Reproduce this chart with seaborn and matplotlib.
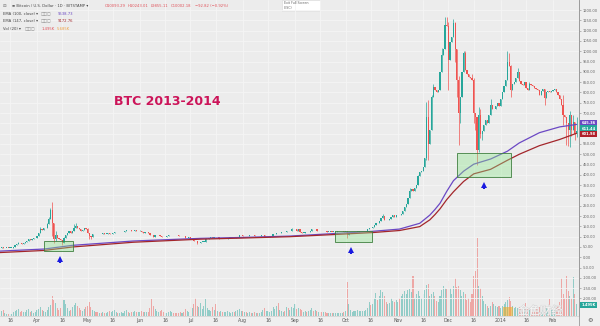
import numpy as np
import pandas as pd
import matplotlib
matplotlib.use("Agg")
import matplotlib.pyplot as plt
import matplotlib.patheffects as pe
from matplotlib.patches import Rectangle
from matplotlib.lines import Line2D
import seaborn as sns

# ---------------- data ----------------
start_date = "2013-03-10"
first_open = 45.0

close_2013_03 = [46.0, 48.4, 44.3, 46.9, 47.2, 46.9, 47.0, 47.4, 51.6, 59.1, 64.3, 70.9, 69.9, 64.3, 71.5, 73.6, 78.5, 88.9, 86.2, 90.5, 92.2, 93.0]
close_2013_04 = [104, 117, 135, 132, 142, 142, 162, 187, 230, 165, 90, 110, 92, 90, 82, 68, 93, 110, 119, 126, 119, 127, 143, 154, 141, 137, 128, 134, 144, 139]
close_2013_05 = [116, 105, 97, 112, 115, 112, 111, 113, 112, 117, 115, 115, 117, 111, 114, 118, 123, 123, 122, 122, 122, 123, 126, 132, 131, 133, 128, 129, 132, 127, 128]
close_2013_06 = [129, 122, 120, 121, 121, 119, 110, 107, 100, 106, 108, 108, 103, 100, 99, 99, 101, 107, 108, 110, 109, 108, 107, 103, 102, 103, 101, 94, 94, 97]
close_2013_07 = [88, 89, 78, 77, 68, 68, 76, 76, 76, 88, 88, 93, 97, 94, 98, 97, 97, 90, 90, 88, 91, 91, 95, 95, 96, 96, 95, 97, 98, 106, 106]
close_2013_08 = [104, 105, 104, 105, 107, 106, 106, 103, 105, 104, 105, 106, 109, 98, 98, 100, 101, 103, 113, 113, 118, 117, 119, 122, 122, 121, 129, 128, 128, 136, 138]
close_2013_09 = [138, 128, 135, 125, 120, 120, 124, 122, 124, 126, 137, 135, 138, 127, 129, 128, 126, 128, 126, 124, 124, 125, 124, 125, 125, 127, 127, 128, 129, 125]
close_2013_10 = [128, 106, 120, 122, 122, 123, 124, 124, 126, 126, 127, 128, 130, 135, 144, 141, 145, 155, 167, 166, 178, 193, 200, 180, 179, 183, 186, 195, 203, 197, 204]
close_2013_11 = [206, 203, 211, 225, 245, 258, 290, 320, 330, 320, 334, 353, 395, 416, 420, 438, 480, 680, 550, 620, 780, 825, 810, 800, 810, 900, 980, 1010, 1130, 1125]
close_2013_12 = [958, 1045, 1070, 1135, 1010, 860, 700, 780, 900, 990, 910, 890, 875, 870, 860, 700, 680, 520, 690, 600, 615, 640, 665, 650, 690, 740, 720, 720, 735, 750, 735]
close_2014_01 = [770, 800, 830, 860, 950, 930, 810, 840, 850, 870, 900, 855, 840, 835, 850, 820, 810, 840, 835, 830, 820, 815, 810, 790, 805, 815, 775, 800, 805, 800, 805]
close_2014_02 = [810, 815, 800, 790, 770, 740, 690, 680, 650, 620, 690, 620, 655, 600, 611.44]

vol_2013_03 = [3, 5, 6, 3, 2, 2, 2, 2, 4, 5, 6, 7, 4, 5, 4, 4, 6, 7, 4, 5, 3, 4]
vol_2013_04 = [6, 7, 9, 6, 5, 4, 6, 9, 11, 20, 16, 13, 8, 6, 8, 19, 16, 12, 8, 5, 6, 9, 11, 13, 10, 8, 6, 5, 7, 9]
vol_2013_05 = [10, 14, 9, 6, 5, 4, 4, 3, 3, 4, 3, 3, 4, 5, 4, 5, 6, 4, 3, 3, 4, 3, 5, 6, 4, 3, 4, 4, 5, 4, 4]
vol_2013_06 = [4, 5, 4, 4, 4, 4, 8, 17, 10, 7, 5, 4, 5, 6, 4, 3, 3, 4, 5, 4, 3, 3, 3, 3, 4, 3, 4, 7, 5, 4]
vol_2013_07 = [9, 8, 12, 18, 10, 9, 13, 7, 10, 17, 8, 6, 5, 9, 6, 12, 5, 4, 5, 4, 4, 4, 5, 4, 3, 4, 4, 5, 6, 7, 5]
vol_2013_08 = [5, 4, 4, 3, 4, 3, 3, 4, 3, 3, 3, 4, 6, 8, 5, 5, 4, 5, 9, 7, 10, 13, 6, 5, 4, 5, 9, 8, 6, 9, 8]
vol_2013_09 = [12, 7, 8, 7, 6, 4, 5, 4, 5, 6, 8, 5, 6, 5, 4, 4, 4, 4, 4, 3, 3, 3, 3, 3, 3, 3, 3, 3, 3, 4]
vol_2013_10 = [5, 34, 12, 6, 4, 5, 5, 6, 5, 5, 5, 5, 6, 8, 14, 11, 12, 18, 23, 16, 20, 26, 24, 20, 14, 12, 13, 18, 15, 14, 16]
vol_2013_11 = [14, 18, 20, 22, 25, 22, 26, 27, 24, 40, 18, 22, 25, 20, 18, 22, 26, 31, 32, 20, 22, 24, 20, 15, 14, 20, 26, 30, 28, 27]
vol_2013_12 = [35, 28, 22, 30, 38, 29, 30, 26, 20, 24, 22, 16, 18, 14, 22, 40, 45, 78, 30, 28, 20, 15, 12, 10, 8, 10, 14, 12, 10, 9, 10]
vol_2014_01 = [8, 10, 12, 14, 16, 19, 15, 10, 8, 9, 8, 9, 7, 6, 8, 13, 8, 6, 6, 5, 6, 7, 8, 9, 7, 6, 10, 8, 7, 17, 6]
vol_2014_02 = [7, 6, 8, 10, 14, 38, 22, 18, 40, 25, 20, 18, 39, 22, 12]

wick_high = {
    "2013-03-19": 62, "2013-03-21": 74, "2013-04-03": 147, "2013-04-07": 165,
    "2013-04-08": 195, "2013-04-09": 240, "2013-04-10": 266, "2013-04-11": 165,
    "2013-04-12": 130, "2013-04-17": 100, "2013-04-23": 160, "2013-04-24": 166,
    "2013-05-01": 140, "2013-06-01": 132, "2013-07-10": 92, "2013-08-30": 140,
    "2013-10-02": 129, "2013-10-23": 210, "2013-11-08": 335, "2013-11-13": 400,
    "2013-11-18": 755, "2013-11-19": 764, "2013-11-21": 790, "2013-11-22": 840,
    "2013-11-27": 1015, "2013-11-29": 1165, "2013-11-30": 1165, "2013-12-01": 1140,
    "2013-12-04": 1156, "2013-12-05": 1140, "2013-12-07": 880, "2013-12-10": 1000,
    "2013-12-11": 1000, "2013-12-15": 890, "2013-12-16": 870, "2013-12-19": 730,
    "2013-12-20": 720, "2013-12-26": 770, "2014-01-05": 1000, "2014-01-06": 990,
    "2014-01-07": 935, "2014-01-11": 920, "2014-01-18": 850, "2014-02-07": 790,
    "2014-02-11": 710, "2014-02-13": 690, "2014-02-15": 680,
}
wick_low = {
    "2013-04-10": 105, "2013-04-11": 70, "2013-04-12": 80, "2013-04-16": 60,
    "2013-05-02": 90, "2013-05-03": 88, "2013-07-05": 65, "2013-10-02": 95,
    "2013-11-18": 470, "2013-11-19": 470, "2013-12-01": 812, "2013-12-05": 950,
    "2013-12-06": 780, "2013-12-07": 545, "2013-12-08": 650, "2013-12-16": 650,
    "2013-12-17": 620, "2013-12-18": 450, "2013-12-19": 510, "2013-12-20": 580,
    "2013-12-21": 570, "2014-01-07": 780, "2014-01-27": 740, "2014-02-07": 640,
    "2014-02-09": 545, "2014-02-10": 540, "2014-02-11": 535, "2014-02-12": 590,
    "2014-02-14": 570, "2014-02-15": 585,
}

ema_dates = ["2013-03-10", "2013-04-05", "2013-04-22", "2013-05-28", "2013-07-07",
             "2013-07-30", "2013-08-29", "2013-09-28", "2013-10-17", "2013-11-02",
             "2013-11-14", "2013-11-20", "2013-11-23", "2013-11-26", "2013-11-30",
             "2013-12-04", "2013-12-10", "2013-12-16", "2013-12-26", "2014-01-05",
             "2014-01-12", "2014-01-24", "2014-02-05", "2014-02-15"]
ema100 = [30, 40, 58, 79, 92, 96, 103, 117, 126, 137, 165, 205, 232, 262, 320,
          372, 418, 452, 477, 515, 555, 605, 633, 645]
ema147 = [23, 33, 50, 73, 88, 93, 100, 112, 120, 130, 149, 182, 207, 235, 280,
          318, 368, 405, 427, 471, 500, 542, 572, 602]

tick_dates = ["2013-03-16", "2013-04-01", "2013-04-16", "2013-05-01", "2013-05-16",
              "2013-06-01", "2013-06-16", "2013-07-01", "2013-07-16", "2013-08-01",
              "2013-08-16", "2013-09-01", "2013-09-16", "2013-10-01", "2013-10-16",
              "2013-11-01", "2013-11-16", "2013-12-01", "2013-12-16", "2014-01-01",
              "2014-01-16", "2014-02-01"]
tick_labels = ["16", "Apr", "16", "May", "16", "Jun", "16", "Jul", "16", "Aug", "16",
               "Sep", "16", "Oct", "16", "Nov", "16", "Dec", "16", "2014", "16", "Feb"]
price_ticks = [-200, -150, -100, -50, 0, 50, 100, 150, 200, 250, 300, 350, 400, 450,
               500, 550, 600, 650, 700, 750, 800, 850, 900, 950, 1000, 1050, 1100,
               1150, 1200]

# ---------------- build series ----------------
closes = np.array(close_2013_03 + close_2013_04 + close_2013_05 + close_2013_06 +
                  close_2013_07 + close_2013_08 + close_2013_09 + close_2013_10 +
                  close_2013_11 + close_2013_12 + close_2014_01 + close_2014_02, dtype=float)
volumes = np.array(vol_2013_03 + vol_2013_04 + vol_2013_05 + vol_2013_06 +
                   vol_2013_07 + vol_2013_08 + vol_2013_09 + vol_2013_10 +
                   vol_2013_11 + vol_2013_12 + vol_2014_01 + vol_2014_02, dtype=float)
assert len(closes) == len(volumes), (len(closes), len(volumes))
start = pd.Timestamp(start_date)
days = np.arange(len(closes))
opens = np.r_[first_open, closes[:-1]]
highs = np.maximum(opens, closes)
lows = np.minimum(opens, closes)
for k, v in wick_high.items():
    i = (pd.Timestamp(k) - start).days
    highs[i] = max(highs[i], v)
for k, v in wick_low.items():
    i = (pd.Timestamp(k) - start).days
    lows[i] = min(lows[i], v)

TEAL = "#26a69a"
RED = "#ef5350"
PURPLE = "#6b48c4"
DRED = "#a3262b"
BG = "#ececec"
up = closes >= opens
colors = np.where(up, TEAL, RED)

# ---------------- figure ----------------
sns.set_theme(style="white")
plt.rcParams["font.family"] = ["DejaVu Sans"]

W, H = 600, 326
fig = plt.figure(figsize=(6, 3.26), dpi=100, facecolor="#efefef")


def fx(x):
    return x / W


def fy(y):
    return 1 - y / H


ax = fig.add_axes([0, 10 / H, 579 / W, 316 / H])
axv = ax.twinx()
ax.set_zorder(axv.get_zorder() + 1)
ax.patch.set_visible(False)
axv.patch.set_visible(True)
axv.set_facecolor(BG)

# volume
axv.bar(days, volumes, width=0.62, color=colors, alpha=0.45, linewidth=0)
axv.set_ylim(0, 316)
axv.set_yticks([])
for s in axv.spines.values():
    s.set_visible(False)

# candles
ax.vlines(days, lows, highs, colors=colors, linewidth=0.5, zorder=3)
body_h = np.maximum(np.abs(closes - opens), 1.5)
ax.bar(days, body_h, bottom=np.minimum(opens, closes), width=0.72,
       color=colors, linewidth=0, zorder=4)

# EMA lines via seaborn
ema_df = pd.DataFrame({
    "day": (pd.to_datetime(ema_dates) - start).days,
    "EMA (100, close)": ema100,
    "EMA (147, close)": ema147,
}).melt("day", var_name="ema", value_name="price")
sns.lineplot(data=ema_df, x="day", y="price", hue="ema",
             palette={"EMA (100, close)": PURPLE, "EMA (147, close)": DRED},
             linewidth=0.9, legend=False, ax=ax, zorder=5)

# axes limits / ticks
ax.set_xlim(0.05, 343.45)
ax.set_ylim(-285, 1249)
ax.set_xlabel("")
ax.set_ylabel("")
tick_days = [(pd.Timestamp(t) - start).days for t in tick_dates]
ax.set_xticks(tick_days)
ax.set_xticklabels(tick_labels, fontsize=3.3, color="#555555")
ax.tick_params(axis="x", length=0, pad=1.6)
ax.yaxis.tick_right()
ax.set_yticks(price_ticks)
ax.set_yticklabels([f"{v:.2f}" for v in price_ticks], fontsize=2.6, color="#666666")
ax.tick_params(axis="y", length=1.5, width=0.4, pad=1.2, colors="#888888", labelcolor="#666666")
ax.grid(True, color="#f5f5f5", linewidth=0.6)
ax.set_axisbelow(True)
for side in ("top", "left"):
    ax.spines[side].set_visible(False)
ax.spines["right"].set_color("#9a9a9a")
ax.spines["right"].set_linewidth(0.6)
ax.spines["bottom"].set_color("#d0d0d0")
ax.spines["bottom"].set_linewidth(0.5)

# green highlight boxes
box_style = dict(facecolor=(0.55, 0.9, 0.55, 0.38), edgecolor="#3f7f3f", linewidth=0.6, zorder=6)
ax.add_patch(Rectangle((26, 32), 17.2, 49, **box_style))
ax.add_patch(Rectangle((198.7, 72), 21.9, 55, **box_style))
ax.add_patch(Rectangle((270.9, 388), 32.0, 117, **box_style))

# blue arrows
BLUE = "#1a1ae0"
for d, head, t0, t1 in [(35.6, -7.0, -9.0, -30.0), (208.0, 36.4, 31.0, 13.6), (287.1, 353.0, 346.0, 332.5)]:
    ax.plot([d, d], [t0, t1], color=BLUE, linewidth=1.5, solid_capstyle="butt", zorder=7)
    ax.plot([d], [head], marker="^", markersize=4.6, color=BLUE, markeredgewidth=0, zorder=7)

# title text
fig.text(fx(114), fy(101.7), "BTC 2013-2014", fontsize=9, fontweight="bold",
         color="#cc1459", va="center", ha="left")

# separator line through price axis
fig.add_artist(Line2D([fx(579.3), fx(579.3)], [0, 1], color="#9a9a9a", linewidth=0.6))

# price badges
for y, txt, c in [(123, "645.36", PURPLE), (128.5, "611.44", TEAL), (134, "601.98", "#b0202a")]:
    fig.text(fx(581.5), fy(y), txt, fontsize=2.6, color="white", fontweight="bold",
             va="center", ha="left",
             bbox=dict(boxstyle="square,pad=0.35", facecolor=c, edgecolor="none"))
fig.text(fx(581.5), fy(305), "1.495K", fontsize=2.6, color="white", fontweight="bold",
         va="center", ha="left",
         bbox=dict(boxstyle="square,pad=0.35", facecolor=TEAL, edgecolor="none"))

# gear icon
fig.text(fx(590), fy(321), "\u2699", fontsize=4.5, color="#555555", ha="center", va="center")

# top-left legend
LG = "#444444"
fs = 2.7
fig.text(fx(3), fy(6), "\u229f", fontsize=3.2, color="#777777", va="center")
fig.text(fx(12), fy(6), "\u2261 Bitcoin / U.S. Dollar \u00b7 1D \u00b7 BITSTAMP \u25be",
         fontsize=fs, color=LG, va="center")
ohlc_red = "#e0525a"
for x, t in [(105, "O10093.29"), (128, "H10243.01"), (151, "L9855.11"),
             (171, "C10002.18"), (195, "\u221292.82 (\u22120.92%)")]:
    fig.text(fx(x), fy(6), t, fontsize=fs, color=ohlc_red, va="center")
fig.text(fx(3), fy(14), "EMA (100, close) \u25be", fontsize=fs, color=LG, va="center")
fig.text(fx(41), fy(14), "\u25a1\u25a1\u25a1", fontsize=fs, color="#888888", va="center")
fig.text(fx(58), fy(14), "9538.73", fontsize=fs, color=PURPLE, va="center")
fig.text(fx(3), fy(21.5), "EMA (147, close) \u25be", fontsize=fs, color=LG, va="center")
fig.text(fx(41), fy(21.5), "\u25a1\u25a1\u25a1", fontsize=fs, color="#888888", va="center")
fig.text(fx(58), fy(21.5), "9172.76", fontsize=fs, color=DRED, va="center")
fig.text(fx(3), fy(29), "Vol (20) \u25be", fontsize=fs, color=LG, va="center")
fig.text(fx(25), fy(29), "\u25a1\u25a1\u25a1", fontsize=fs, color="#888888", va="center")
fig.text(fx(42), fy(29), "1.495K", fontsize=fs, color=ohlc_red, va="center")
fig.text(fx(57), fy(29), "5.685K", fontsize=fs, color="#f0a040", va="center")

# "Exit Full Screen" tooltip
fig.add_artist(Rectangle((fx(282), fy(10.5)), fx(38), 10.5 / H, transform=fig.transFigure,
                         facecolor="white", edgecolor="#d8d8d8", linewidth=0.4))
fig.text(fx(284), fy(3.3), "Exit Full Screen", fontsize=2.3, color="#666666", va="center")
fig.text(fx(284), fy(7.6), "(ESC)", fontsize=2.3, color="#666666", va="center")

# watermark (kept above the time-axis labels)
fig.add_artist(Rectangle((fx(503), fy(316)), fx(10), 9 / H, transform=fig.transFigure,
                         facecolor="#f2a81d", alpha=0.55, edgecolor="none"))
fig.text(fx(518), fy(311), "金色财经", fontsize=8, color="white", alpha=0.75,
         family=["Noto Sans CJK SC", "DejaVu Sans"], va="center", ha="left",
         path_effects=[pe.withStroke(linewidth=0.8, foreground="#cfcfcf")])

fig.savefig("out.png", dpi=100, facecolor=fig.get_facecolor())
